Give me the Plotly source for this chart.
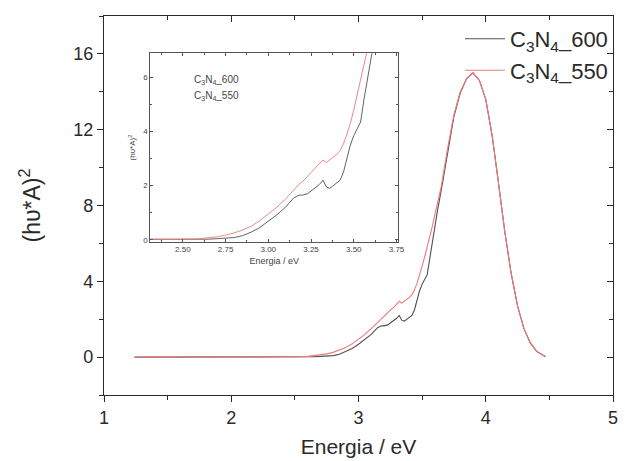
import plotly.graph_objects as go

energy = [1.24, 1.5, 2.0, 2.3, 2.4, 2.5, 2.55, 2.6, 2.65, 2.7, 2.75, 2.8, 2.85, 2.9, 2.95,
          3.0, 3.05, 3.1, 3.15, 3.18, 3.2, 3.23, 3.25, 3.28, 3.3, 3.32, 3.34, 3.36, 3.38,
          3.4, 3.42, 3.44, 3.46, 3.48, 3.5, 3.52, 3.54, 3.56, 3.58, 3.6, 3.62, 3.65, 3.7,
          3.75, 3.8, 3.85, 3.9, 3.95, 4.0, 4.05, 4.1, 4.15, 4.2, 4.25, 4.3, 4.35, 4.4,
          4.45, 4.47]

c3n4_550 = [0, 0, 0, 0, 0, 0.01, 0.02, 0.04, 0.07, 0.11, 0.17, 0.25, 0.36, 0.5, 0.7,
            0.95, 1.2, 1.5, 1.85, 2.05, 2.15, 2.35, 2.45, 2.65, 2.8, 2.95, 2.85, 2.95, 3.05,
            3.15, 3.3, 3.55, 3.9, 4.3, 4.8, 5.3, 5.8, 6.3, 6.9, 7.5, 8.1, 9.0, 11.0,
            12.8, 14.0, 14.7, 15.0, 14.6, 13.6, 11.7, 9.2, 6.6, 4.4, 2.7, 1.5, 0.75, 0.3,
            0.08, 0.02]

c3n4_600 = [0, 0, 0, 0, 0, 0, 0.0, 0.01, 0.02, 0.04, 0.06, 0.08, 0.15, 0.28, 0.45,
            0.68, 0.92, 1.2, 1.55, 1.65, 1.65, 1.7, 1.8, 1.95, 2.05, 2.2, 1.95, 1.9, 2.0,
            2.1, 2.2, 2.5, 3.0, 3.5, 3.85, 4.1, 4.35, 5.2, 6.1, 7.0, 7.7, 8.8, 10.8,
            12.7, 13.95, 14.7, 15.0, 14.6, 13.6, 11.7, 9.2, 6.6, 4.4, 2.7, 1.5, 0.75, 0.3,
            0.08, 0.02]

names = ["C<sub>3</sub>N<sub>4</sub>_600", "C<sub>3</sub>N<sub>4</sub>_550"]
colors = ["#505050", "#ec7b78"]

x_title = "Energia / eV"
y_title = "(h\u03c5*A)<sup>2</sup>"

main_xticks = [1, 2, 3, 4, 5]
main_yticks = [0, 4, 8, 12, 16]
inset_xticks = [2.50, 2.75, 3.00, 3.25, 3.50, 3.75]
inset_yticks = [0, 2, 4, 6]

FONT = "Liberation Sans, Arial, sans-serif"
AX = "#2a2a2a"

fig = go.Figure()

for ys, nm, col in zip([c3n4_600, c3n4_550], names, colors):
    fig.add_trace(go.Scatter(x=energy, y=ys, mode="lines", name=nm,
                             line=dict(color=col, width=1.1), xaxis="x", yaxis="y"))

# inset traces
for ys, nm, col in zip([c3n4_600, c3n4_550], names, colors):
    fig.add_trace(go.Scatter(x=energy, y=ys, mode="lines", name=nm, showlegend=False,
                             line=dict(color=col, width=0.9), xaxis="x3", yaxis="y3"))

# transparent copy on the mirrored axes so the inward top/right ticks are drawn
fig.add_trace(go.Scatter(x=energy, y=c3n4_550, xaxis="x2", yaxis="y2", mode="lines",
                         line=dict(width=0, color="rgba(0,0,0,0)"), showlegend=False,
                         hoverinfo="skip"))

fig.update_layout(
    width=625, height=461,
    margin=dict(l=104, r=5, t=16, b=66),
    paper_bgcolor="white", plot_bgcolor="white",
    font=dict(family=FONT, color=AX),
    showlegend=True,
    legend=dict(x=1.0, xanchor="right", y=0.995, yanchor="top",
                font=dict(size=22, color=AX), bgcolor="rgba(0,0,0,0)",
                tracegroupgap=0, itemwidth=40),
    xaxis=dict(range=[1, 5], tickvals=main_xticks, ticks="outside", ticklen=6,
               tickwidth=1, tickcolor=AX, showline=True, linecolor=AX, linewidth=1.2,
               mirror=True, showgrid=False, zeroline=False,
               tickfont=dict(size=18, color=AX),
               minor=dict(dtick=0.5, tick0=1, ticks="outside", ticklen=4, tickcolor=AX),
               title=dict(text=x_title, font=dict(size=21, color=AX), standoff=12)),
    yaxis=dict(range=[-2, 18], tickvals=main_yticks, ticks="outside", ticklen=6,
               tickwidth=1, tickcolor=AX, showline=True, linecolor=AX, linewidth=1.2,
               mirror=True, showgrid=False, zeroline=False,
               tickfont=dict(size=18, color=AX),
               minor=dict(dtick=2, tick0=0, ticks="outside", ticklen=4, tickcolor=AX),
               title=dict(text=y_title, font=dict(size=23, color=AX), standoff=26)),
    xaxis2=dict(range=[1, 5], overlaying="x", side="top", anchor="y", tickvals=main_xticks,
                ticks="inside", ticklen=6, tickcolor=AX, showticklabels=False,
                showgrid=False, zeroline=False, showline=False,
                minor=dict(dtick=0.5, tick0=1, ticks="inside", ticklen=4, tickcolor=AX)),
    yaxis2=dict(range=[-2, 18], overlaying="y", side="right", anchor="x", tickvals=main_yticks,
                ticks="inside", ticklen=6, tickcolor=AX, showticklabels=False,
                showgrid=False, zeroline=False, showline=False,
                minor=dict(dtick=2, tick0=0, ticks="inside", ticklen=4, tickcolor=AX)),
    xaxis3=dict(domain=[0.091, 0.578], anchor="y3", range=[2.31, 3.76],
                tickvals=inset_xticks, tickformat=".2f", ticks="inside", ticklen=3,
                tickcolor="#555", showline=True, linecolor="#555", linewidth=1,
                mirror="ticks", showgrid=False, zeroline=False,
                tickfont=dict(size=8, color="#444"),
                minor=dict(dtick=0.125, tick0=2.5, ticks="inside", ticklen=2, tickcolor="#555"),
                title=dict(text=x_title, font=dict(size=9, color="#444"), standoff=4)),
    yaxis3=dict(domain=[0.404, 0.902], anchor="x3", range=[-0.08, 6.9],
                tickvals=inset_yticks, ticks="inside", ticklen=3,
                tickcolor="#555", showline=True, linecolor="#555", linewidth=1,
                mirror="ticks", showgrid=False, zeroline=False,
                tickfont=dict(size=8, color="#444"),
                minor=dict(dtick=1, tick0=0, ticks="inside", ticklen=2, tickcolor="#555"),
                title=dict(text=y_title, font=dict(size=8, color="#444"), standoff=6)),
)

for i, nm in enumerate(names):
    fig.add_annotation(text=nm, xref="x3 domain", yref="y3 domain",
                       x=0.17, y=0.86 - i * 0.085, xanchor="left", yanchor="middle",
                       showarrow=False, font=dict(size=10, color="#444"))

fig.write_html("out.html")
